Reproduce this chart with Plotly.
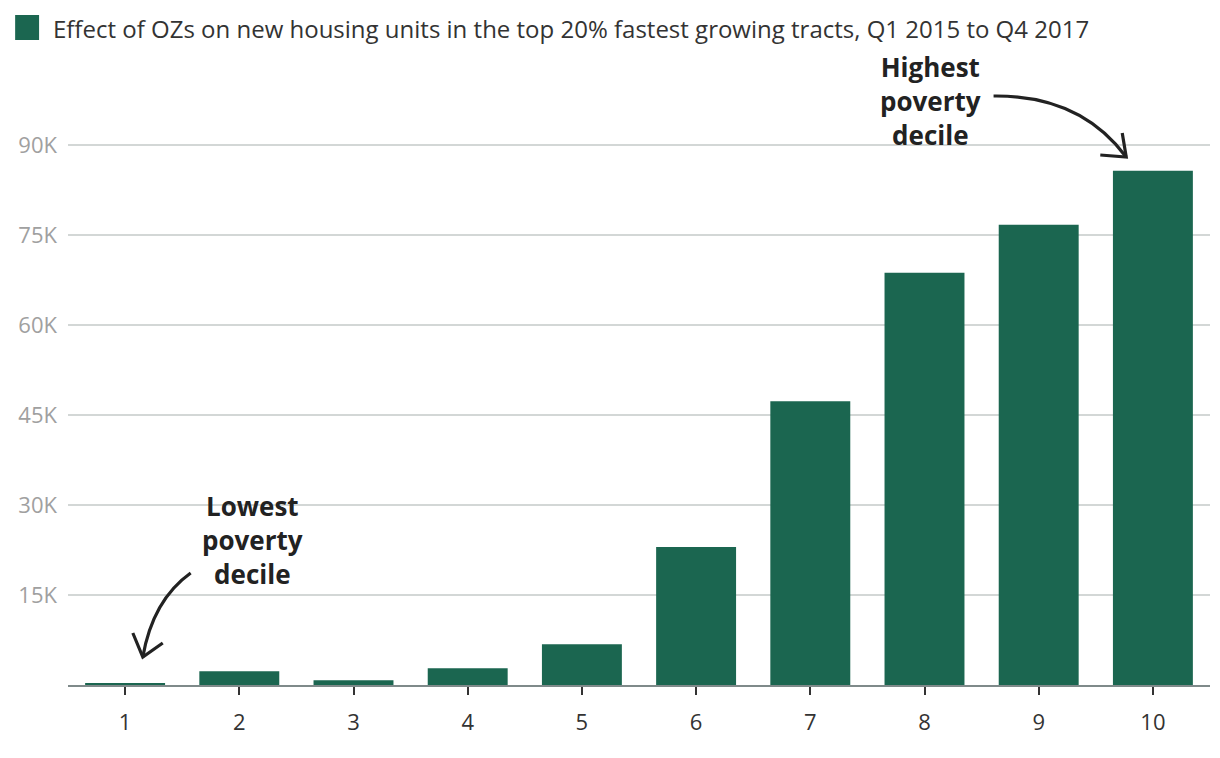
import plotly.graph_objects as go

deciles = [1, 2, 3, 4, 5, 6, 7, 8, 9, 10]
units = [300, 2300, 800, 2800, 6800, 23000, 47300, 68700, 76700, 85700]
y_tickvals = [15000, 30000, 45000, 60000, 75000, 90000]
y_ticktext = ["15K", "30K", "45K", "60K", "75K", "90K"]
legend_label = "Effect of OZs on new housing units in the top 20% fastest growing tracts, Q1 2015 to Q4 2017"

GREEN = "#1b6650"
OFF = 8  # page body margin
W, H = 1220 - OFF, 758 - OFF
ML, MR, MT, MB = 65 - OFF, 10, 100 - OFF, 73
PW, PH = W - ML - MR, H - MT - MB

def px(x):
    return (x - OFF - ML) / PW

def py(y):
    return (H - MB - (y - OFF)) / PH

fig = go.Figure()
fig.add_trace(go.Bar(x=deciles, y=units, marker_color=GREEN, marker_line_width=0,
                     name=legend_label, showlegend=False))

shapes = []
shapes.append(dict(type="rect", xref="paper", yref="paper",
                   x0=px(12), x1=px(36), y0=py(40), y1=py(15),
                   fillcolor=GREEN, line_width=0))

def curve(p0, c, p1, a1, a2):
    d = f"M {px(p0[0])},{py(p0[1])} Q {px(c[0])},{py(c[1])} {px(p1[0])},{py(p1[1])}"
    h = f"M {px(a1[0])},{py(a1[1])} L {px(p1[0])},{py(p1[1])} L {px(a2[0])},{py(a2[1])}"
    s = dict(xref="paper", yref="paper", type="path", line=dict(color="#222", width=3.2))
    return [dict(s, path=d), dict(s, path=h)]

shapes += curve((993, 96), (1080, 95), (1126, 157), (1100, 155), (1122, 133))
shapes += curve((188, 573), (150, 600), (140, 657), (130, 633), (160, 643))

annotations = [
    dict(xref="paper", yref="paper", x=px(48), y=py(28), xanchor="left", yanchor="middle",
         text=legend_label, showarrow=False, font=dict(size=24, color="#333")),
    dict(xref="paper", yref="paper", x=px(930), y=py(101), xanchor="center", yanchor="middle",
         text="<b>Highest<br>poverty<br>decile</b>", showarrow=False,
         font=dict(size=26, color="#222")),
    dict(xref="paper", yref="paper", x=px(250), y=py(540), xanchor="center", yanchor="middle",
         text="<b>Lowest<br>poverty<br>decile</b>", showarrow=False,
         font=dict(size=26, color="#222")),
]

fig.update_layout(
    width=W, height=H,
    margin=dict(l=ML, r=MR, t=MT, b=MB),
    plot_bgcolor="white", paper_bgcolor="white",
    font=dict(family="Open Sans", color="#333"),
    bargap=0.3,
    shapes=shapes, annotations=annotations,
    xaxis=dict(tickmode="array", tickvals=deciles, ticktext=[str(d) for d in deciles],
               range=[0.5, 10.5], showgrid=False, showline=True, linecolor="#7f8a8a",
               linewidth=2, ticks="outside", ticklen=8, tickwidth=2, tickcolor="#333",
               tickfont=dict(size=22, color="#333"), ticklabelstandoff=9),
    yaxis=dict(range=[0, PH * 1000 / 6], tickmode="array", tickvals=y_tickvals,
               ticktext=y_ticktext, showgrid=True, gridcolor="#d3d7d6", gridwidth=1.5,
               zeroline=False, ticks="", tickfont=dict(size=22, color="#a0a0a0"),
               ticklabelstandoff=10),
)

fig.write_html("out.html")
